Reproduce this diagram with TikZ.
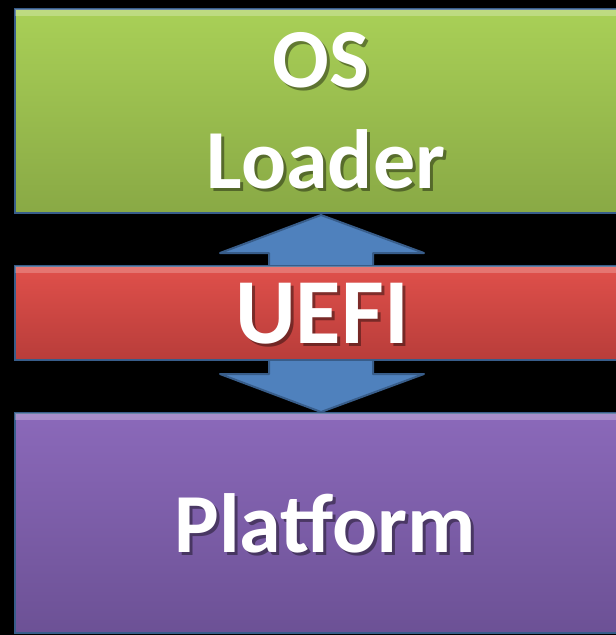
\documentclass[tikz,border=0pt]{standalone}
\usepackage{fontspec}
\setmainfont{Carlito}
\usetikzlibrary{shadings}
\definecolor{edgeblue}{HTML}{385D8A}
\definecolor{arrowblue}{HTML}{4F81BD}
\definecolor{greentop}{HTML}{A9D057}
\definecolor{greenbot}{HTML}{89A945}
\definecolor{redtop}{HTML}{E0504B}
\definecolor{redbot}{HTML}{B83D3A}
\definecolor{purptop}{HTML}{8B69BA}
\definecolor{purpbot}{HTML}{6C5195}
\tikzset{
  layer/.style={draw=edgeblue, line width=1.5pt},
  lbl/.style={text=white, font=\bfseries\fontsize{84}{84}\selectfont, anchor=base, inner sep=0pt},
  lblshadow/.style={text=black, opacity=0.4, font=\bfseries\fontsize{84}{84}\selectfont, anchor=base, inner sep=0pt},
  bigarrow/.style={fill=arrowblue, draw=edgeblue, line width=2pt, line join=round},
}
\begin{document}
\begin{tikzpicture}[x=1pt, y=-1pt]
  % black backdrop
  \fill[black] (0,0) rectangle (616,635);
  \useasboundingbox (0,0) rectangle (616,635);

  % double arrow between the layers
  \draw[bigarrow] (321,215) -- (424,253) -- (373,253) -- (373,374) -- (424,374)
     -- (321,412) -- (220,374) -- (269,374) -- (269,253) -- (220,253) -- cycle;

  % layers
  \shade[top color=greentop, bottom color=greenbot] (15,9) rectangle (618,213);
  \draw[layer] (15,9) rectangle (618,213);
  \fill[white, opacity=0.25] (15,9) rectangle (618,16);

  \shade[top color=redtop, bottom color=redbot] (15,266) rectangle (618,360);
  \draw[layer] (15,266) rectangle (618,360);
  \fill[white, opacity=0.22] (15,266) rectangle (618,273);

  \shade[top color=purptop, bottom color=purpbot] (15,413) rectangle (618,633);
  \draw[layer] (15,413) rectangle (618,633);
  \fill[white, opacity=0.25] (15,413) rectangle (618,420);

  % labels with soft drop shadows
  \node[lblshadow] (osshadow) at (324,90) {OS};
  \node[lbl] (os) at (321,87) {OS};
  \node[lblshadow] (loadershadow) at (329,191) {Loader};
  \node[lbl] (loader) at (326,188) {Loader};
  \node[lblshadow, font=\bfseries\fontsize{93}{93}\selectfont] (uefishadow) at (325,346) {UEFI};
  \node[lbl, font=\bfseries\fontsize{93}{93}\selectfont] (uefi) at (322,343) {UEFI};
  \node[lblshadow] (platformshadow) at (328,555) {Platform};
  \node[lbl] (platform) at (325,552) {Platform};
\end{tikzpicture}
\end{document}
